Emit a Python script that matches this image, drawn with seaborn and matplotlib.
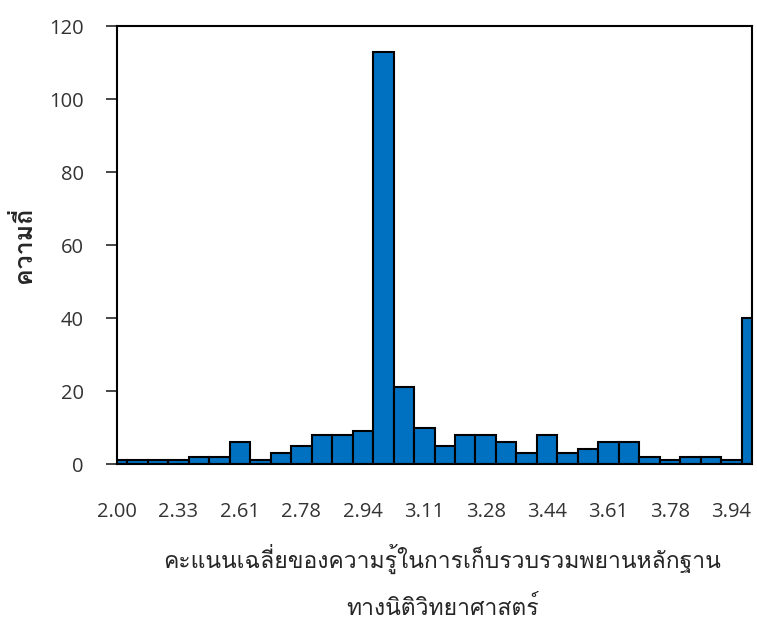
import numpy as np
import pandas as pd
import matplotlib
matplotlib.use("Agg")
import matplotlib.pyplot as plt
import seaborn as sns
from matplotlib import font_manager, ft2font

# ---- data ----
bin_positions = list(range(32))
frequencies = [1, 1, 1, 1, 2, 2, 6, 1, 3, 5, 8, 8, 9, 113, 21, 10,
               5, 8, 8, 6, 3, 8, 3, 4, 6, 6, 2, 1, 2, 2, 1, 40]
tick_labels = ["2.00", "2.33", "2.61", "2.78", "2.94", "3.11",
               "3.28", "3.44", "3.61", "3.78", "3.94"]
y_ticks = [0, 20, 40, 60, 80, 100, 120]
x_label = "คะแนนเฉลี่ยของความรู้ในการเก็บรวบรวมพยานหลักฐาน\nทางนิติวิทยาศาสตร์"
y_label = "ความถี่"

# find a font with Thai glyphs
thai_family = None
for f in font_manager.fontManager.ttflist:
    try:
        ft = ft2font.FT2Font(f.fname)
        if 0x0E04 in ft.get_charmap():
            thai_family = f.name
            break
    except Exception:
        pass

sns.set_style("white")
families = ([thai_family] if thai_family else []) + ["DejaVu Sans"]
plt.rcParams["font.family"] = families

df = pd.DataFrame({"pos": bin_positions, "freq": frequencies})

fig = plt.figure(figsize=(7.57, 6.20), dpi=100)
ax = fig.add_axes([0.1546, 0.2516, 0.9934 - 0.1546, 0.958 - 0.2516])

sns.histplot(data=df, x="pos", weights="freq", discrete=True, ax=ax,
             color="#0070C0", alpha=1, edgecolor="black", linewidth=1.5)

ax.set_xlim(0, 31)
ax.set_ylim(0, 120)
ax.set_yticks(y_ticks)
ax.set_xticks(bin_positions[::3])
ax.set_xticklabels(tick_labels)
ax.tick_params(axis="x", length=0, pad=27, labelsize=14.5, labelcolor="#333333")
ax.tick_params(axis="y", length=8, width=1.2, direction="out", left=True,
               labelsize=14.5, labelcolor="#333333", pad=16)
for lab in ax.get_xticklabels() + ax.get_yticklabels():
    lab.set_family(["Open Sans", "DejaVu Sans"])
for s in ax.spines.values():
    s.set_visible(True)
    s.set_color("black")
    s.set_linewidth(1.5)

ax.set_ylabel(y_label, fontsize=18, fontweight="bold")
ax.yaxis.set_label_coords(-0.128, 0.5)
ax.set_xlabel(x_label, fontsize=16.5, linespacing=2.15, va="top")
ax.xaxis.set_label_coords(0.512, -0.182)

fig.savefig("out.png", dpi=100)
